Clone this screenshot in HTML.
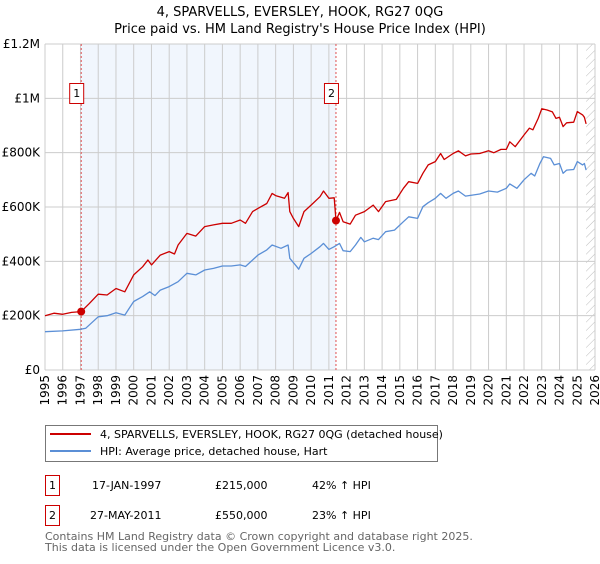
<!DOCTYPE html>
<html><head><meta charset="utf-8"><style>
body{margin:0;background:#fff;font-family:"DejaVu Sans","Liberation Sans",sans-serif;}
svg text{font-family:"DejaVu Sans","Liberation Sans",sans-serif;}
</style></head><body>
<svg id="c" width="600" height="560" xmlns="http://www.w3.org/2000/svg">
<defs><pattern id="h" width="6" height="6" patternUnits="userSpaceOnUse" patternTransform="rotate(45)"><line x1="0" y1="0" x2="0" y2="6" stroke="#bbb" stroke-width="1"/></pattern></defs>
<text x="300" y="16" text-anchor="middle" font-size="13" fill="#000">4, SPARVELLS, EVERSLEY, HOOK, RG27 0QG</text>
<text x="300" y="33" text-anchor="middle" font-size="13" fill="#000">Price paid vs. HM Land Registry's House Price Index (HPI)</text>
<g id="plot"></g>
<g>
<rect x="45.5" y="425.5" width="392" height="36" fill="#fff" stroke="#777"/>
<line x1="50" y1="434" x2="91" y2="434" stroke="#cc0000" stroke-width="2"/>
<text x="100" y="438" font-size="11">4, SPARVELLS, EVERSLEY, HOOK, RG27 0QG (detached house)</text>
<line x1="50" y1="451" x2="91" y2="451" stroke="#5b8fd6" stroke-width="2"/>
<text x="100" y="455" font-size="11">HPI: Average price, detached house, Hart</text>
</g>
<g font-size="11">
<rect x="45.5" y="475.5" width="14" height="20" fill="#fff" stroke="#cc0000"/>
<text x="52.5" y="489" text-anchor="middle">1</text>
<text x="92" y="489">17-JAN-1997</text><text x="215" y="489">£215,000</text><text x="312" y="489">42% ↑ HPI</text>
<rect x="45.5" y="505.5" width="14" height="20" fill="#fff" stroke="#cc0000"/>
<text x="52.5" y="519" text-anchor="middle">2</text>
<text x="90" y="519">27-MAY-2011</text><text x="215" y="519">£550,000</text><text x="312" y="519">23% ↑ HPI</text>
</g>
<text x="45" y="540" font-size="11" fill="#666">Contains HM Land Registry data © Crown copyright and database right 2025.</text>
<text x="45" y="551" font-size="11" fill="#666">This data is licensed under the Open Government Licence v3.0.</text>
</svg>
<script>
const yTicks=[0,200000,400000,600000,800000,1000000,1200000];
const yTickLabels=["£0","£200K","£400K","£600K","£800K","£1M","£1.2M"];
const xYears=[1995,1996,1997,1998,1999,2000,2001,2002,2003,2004,2005,2006,2007,2008,2009,2010,2011,2012,2013,2014,2015,2016,2017,2018,2019,2020,2021,2022,2023,2024,2025,2026];
const sales=[{n:"1",t:1997.04,v:215000},{n:"2",t:2011.4,v:550000}];
const redT=[1995,1995.5,1996,1996.5,1997.04,1997.5,1998,1998.5,1999,1999.5,2000,2000.5,2000.8,2001,2001.5,2002,2002.3,2002.5,2003,2003.5,2004,2004.5,2005,2005.5,2006,2006.3,2006.7,2007,2007.5,2007.8,2008,2008.5,2008.7,2008.8,2009,2009.3,2009.6,2010,2010.5,2010.7,2011,2011.3,2011.4,2011.6,2011.8,2012.2,2012.5,2013,2013.5,2013.8,2014.2,2014.8,2015.2,2015.5,2016,2016.3,2016.6,2017,2017.3,2017.5,2018,2018.3,2018.7,2019,2019.5,2020,2020.3,2020.7,2021,2021.2,2021.5,2022,2022.3,2022.5,2022.8,2023,2023.3,2023.6,2023.8,2024,2024.2,2024.4,2024.8,2025,2025.3,2025.4,2025.5];
const redV=[200,209,205,212,215,245,279,276,300,288,350,380,405,387,423,436,427,460,503,493,528,534,540,540,552,540,583,595,613,650,642,632,653,583,558,528,583,607,638,659,632,634,550,580,546,537,570,583,607,583,620,628,669,693,687,724,755,767,797,775,797,807,788,795,797,807,800,812,812,840,822,865,890,884,926,962,957,950,926,930,896,910,912,951,939,930,906];
const blueT=[1995,1996,1997,1997.3,1998,1998.5,1999,1999.5,2000,2000.5,2000.9,2001.2,2001.5,2002,2002.5,2003,2003.5,2004,2004.5,2005,2005.5,2006,2006.3,2006.7,2007,2007.5,2007.8,2008.3,2008.7,2008.8,2009.2,2009.3,2009.6,2010,2010.5,2010.7,2011,2011.3,2011.6,2011.8,2012.2,2012.5,2012.8,2013,2013.5,2013.8,2014.2,2014.7,2015.2,2015.5,2016,2016.3,2016.6,2017,2017.3,2017.6,2018,2018.3,2018.7,2019.5,2020,2020.5,2021,2021.2,2021.6,2022,2022.4,2022.6,2022.9,2023.1,2023.5,2023.7,2024,2024.2,2024.4,2024.8,2025,2025.3,2025.4,2025.5];
const blueV=[141,144,150,154,196,200,211,202,252,270,288,274,294,307,325,356,350,368,374,383,383,387,381,405,423,442,460,448,460,411,380,371,411,429,454,466,444,454,466,439,436,460,488,472,485,480,509,515,546,564,558,601,616,632,650,632,650,659,640,648,659,655,669,685,669,700,724,714,761,785,779,755,760,724,736,738,767,755,760,736];
const X0=45,X1=595,Y0=370,Y1=44,hatchT=2025.5;
const xs=t=>X0+(t-1995)*(X1-X0)/31, ys=v=>Y0-v*(Y0-Y1)/1200000;
const NS="http://www.w3.org/2000/svg", g=document.getElementById('plot');
function mk(tag,at,txt){const e=document.createElementNS(NS,tag);for(const k in at)e.setAttribute(k,at[k]);if(txt!=null)e.textContent=txt;g.appendChild(e);return e;}
let e=mk('rect',{x:xs(sales[0].t),y:Y1,width:xs(sales[1].t)-xs(sales[0].t),height:Y0-Y1,fill:'#f1f6fd'});


e=mk('rect',{x:xs(hatchT),y:Y1,width:X1-xs(hatchT),height:Y0-Y1,fill:'url(#h)'});


xYears.forEach(y=>{const x=xs(y);
 e=mk('line',{x1:x,y1:Y1,x2:x,y2:Y0,stroke:'#ccc','stroke-width':1});
 
 
 e=mk('text',{x:0,y:0,'font-size':12,'text-anchor':'end',transform:`translate(${x+4},${Y0+5}) rotate(-90)`},String(y));
 
 
});
yTicks.forEach((v,i)=>{const y=ys(v);
 e=mk('line',{x1:X0,y1:y,x2:X1,y2:y,stroke:'#ccc','stroke-width':1});
 
 
 e=mk('text',{x:X0-5,y:y+4,'font-size':12,'text-anchor':'end'},yTickLabels[i]);
 
 
});
sales.forEach(s=>{const x=xs(s.t);
 e=mk('line',{x1:x,y1:Y1,x2:x,y2:Y0,stroke:'#e05050','stroke-width':1,'stroke-dasharray':'2,2'});
 
 
 e=mk('rect',{x:x-11.5,y:83.5,width:14,height:20,fill:'#fff',stroke:'#cc0000'});
 
 
 e=mk('text',{x:x-4.5,y:97,'font-size':11,'text-anchor':'middle'},s.n);
 
 
});
function path(T,V,col,name){const d=T.map((t,i)=>(i?'L':'M')+xs(t).toFixed(1)+','+ys(V[i]*1000).toFixed(1)).join('');
 const p=mk('path',{d:d,fill:'none',stroke:col,'stroke-width':1.3,'stroke-linejoin':'round'});
 
 }
path(blueT,blueV,'#5b8fd6','hpi-line');
path(redT,redV,'#cc0000','property-price-line');
sales.forEach(s=>{e=mk('circle',{cx:xs(s.t),cy:ys(s.v),r:4,fill:'#cc0000'});
 
 });
</script>
</body></html>
